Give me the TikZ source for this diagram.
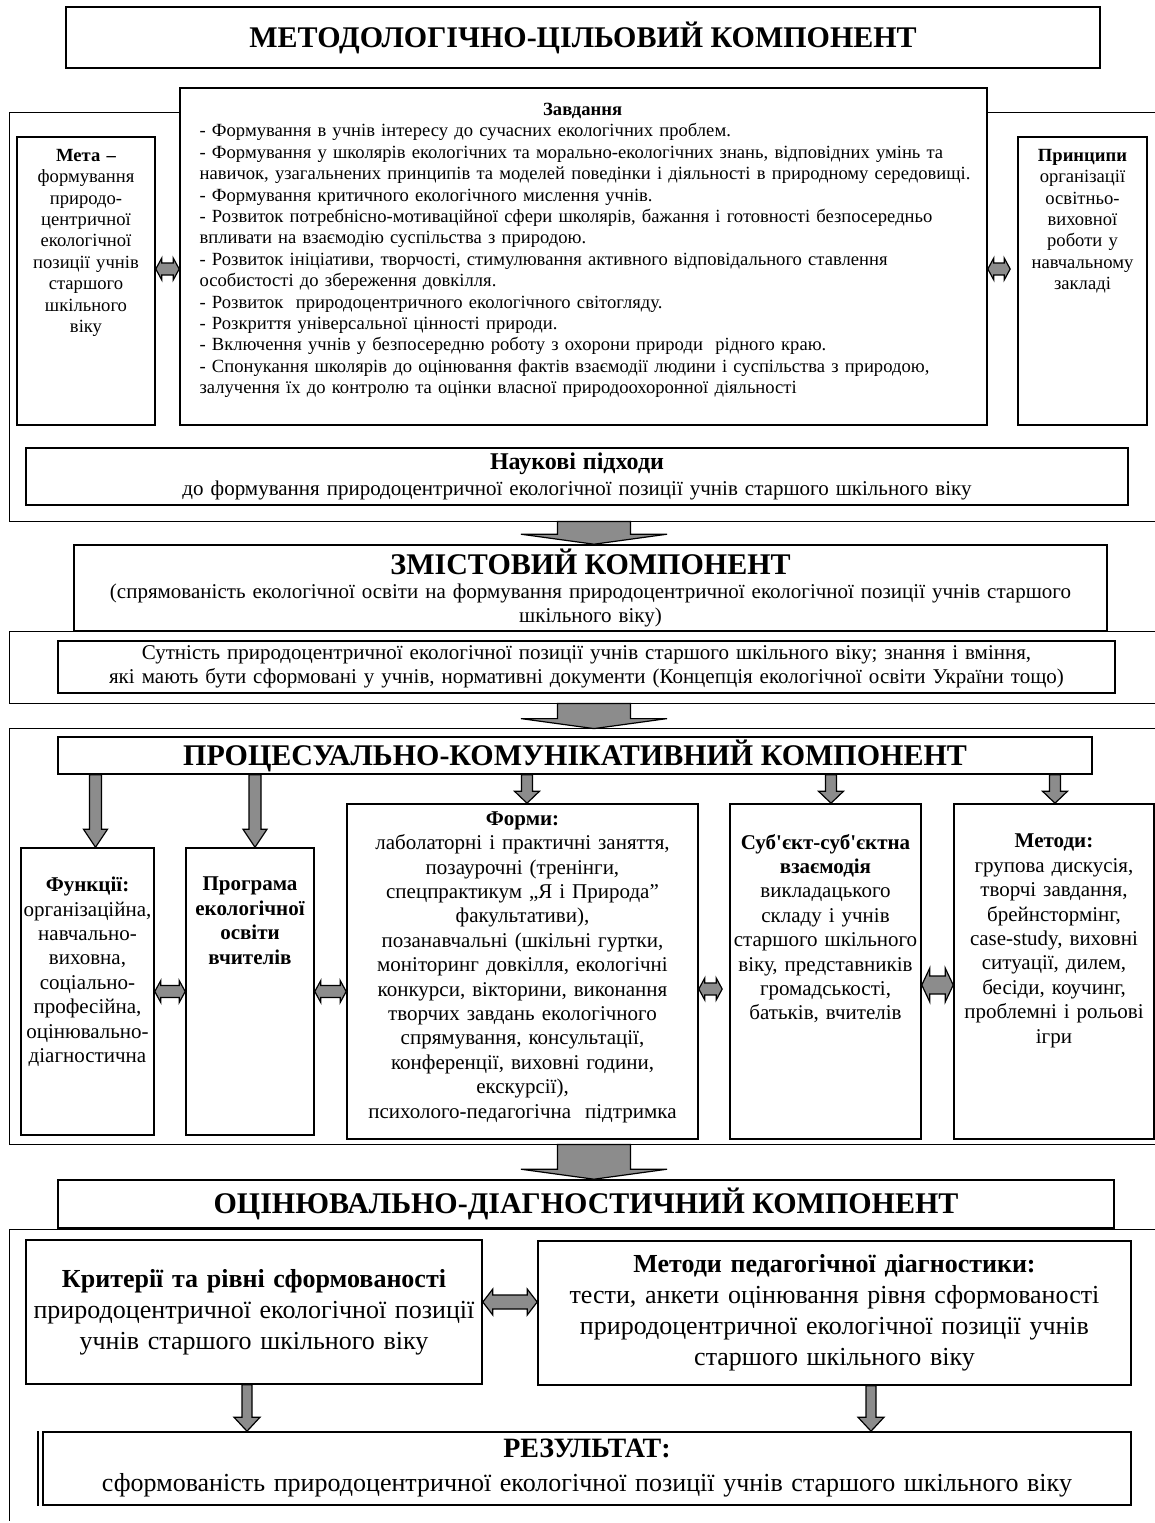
\documentclass[tikz,border=0pt]{standalone}
\usepackage{fontspec}
\setmainfont{Liberation Serif}[Ligatures=TeXOff,BoldFont={Liberation Serif Bold},ItalicFont={Liberation Serif Italic}]
\usetikzlibrary{positioning,calc}

\newcommand{\zsz}{\fontsize{9.3pt}{10.7pt}\selectfont}
\newcommand{\msz}{\fontsize{10.5pt}{12pt}\selectfont}
\newcommand{\lsz}{\fontsize{10.5pt}{12.2pt}\selectfont}
\newcommand{\bsz}{\fontsize{13pt}{15.5pt}\selectfont}
\newcommand{\tsz}{\fontsize{15pt}{18pt}\selectfont\bfseries}
\newcommand{\jl}[1]{\makebox[383pt][s]{#1}}
\newcommand{\blkdown}[5]{\path[blk] let \p1=#1,\p2=#2 in (\x1-#3,\y1)--(\x1-#3,\y2+#5)--(\x1-#4,\y2+#5)--(\x1,\y2)--(\x1+#4,\y2+#5)--(\x1+#3,\y2+#5)--(\x1+#3,\y1)--cycle;}
\newcommand{\blkboth}[5]{\path[blk] let \p1=#1,\p2=#2 in (\x1,\y1)--(\x1+#5,\y1+#3)--(\x1+#5,\y1+#4)--(\x2-#5,\y1+#4)--(\x2-#5,\y1+#3)--(\x2,\y1)--(\x2-#5,\y1-#3)--(\x2-#5,\y1-#4)--(\x1+#5,\y1-#4)--(\x1+#5,\y1-#3)--cycle;}

\begin{document}
\begin{tikzpicture}[x=0.5pt,y=-0.5pt,
	box/.style={draw,line width=0.8pt,fill=white,inner sep=0pt,align=center},
	frm/.style={inner sep=0pt},
	txt/.style={inner sep=0pt,align=center},
	blk/.style={draw,fill=black!45,line width=0.6pt}]
	\useasboundingbox (0,0) rectangle (1155,1523);
	\node[box,minimum width=517pt,minimum height=30.5pt,font=\tsz] (meth) at (583,37.5) {МЕТОДОЛОГІЧНО-ЦІЛЬОВИЙ КОМПОНЕНТ};
	\node[frm,minimum width=572.5pt,minimum height=204pt] (fr1) at (582.5,317) {};
	\draw[line width=0.8pt] (fr1.north east)--(fr1.north west)--(fr1.south west)--(fr1.south east);
	\node[box,minimum width=403.5pt,minimum height=168.5pt] (zavd) at (583.5,256.5) {};
	\node[txt,text width=400pt,align=left,font=\zsz,below right=7.8pt and 10pt of zavd.north west] (zavdt) {\makebox[383pt]{\textbf{Завдання}}\\
		- Формування в учнів інтересу до сучасних екологічних проблем.\\
		\jl{- Формування у школярів екологічних та морально-екологічних знань, відповідних умінь та}\\
		навичок, узагальнених принципів та моделей поведінки і діяльності в природному середовищі.\\
		- Формування критичного екологічного мислення учнів.\\
		\jl{- Розвиток потребнісно-мотиваційної сфери школярів, бажання і готовності безпосередньо}\\
		впливати на взаємодію суспільства з природою.\\
		\jl{- Розвиток ініціативи, творчості, стимулювання активного відповідального ставлення}\\
		особистості до збереження довкілля.\\
		- Розвиток\ \ природоцентричного екологічного світогляду.\\
		- Розкриття універсальної цінності природи.\\
		- Включення учнів у безпосередню роботу з охорони природи\ \ рідного краю.\\
		\jl{- Спонукання школярів до оцінювання фактів взаємодії людини і суспільства з природою,}\\
		залучення їх до контролю та оцінки власної природоохоронної діяльності};
	\node[box,minimum width=69pt,minimum height=144pt] (meta) at (86,281) {};
	\node[txt,text width=80pt,font=\zsz,below=6.3pt of meta.north] (metat) {\textbf{Мета –}\\формування\\природо-\\центричної\\екологічної\\позиції учнів\\старшого\\шкільного\\віку};
	\node[box,minimum width=64.5pt,minimum height=144pt] (princ) at (1082.5,281) {};
	\node[txt,text width=80pt,font=\zsz,below=6.3pt of princ.north] (princt) {\textbf{Принципи}\\організації\\освітньо-\\виховної\\роботи у\\навчальному\\закладі};
	\blkboth{(meta.east |- 0,269)}{(zavd.west)}{5.5pt}{3pt}{3pt}
	\blkboth{(zavd.east |- 0,269)}{([xshift=-3.5pt]princ.west)}{5.5pt}{3pt}{3pt}
	\node[box,minimum width=551pt,minimum height=28.5pt,text width=551pt,font=\msz] (nauk) at (577,476.5) {{\fontsize{12pt}{14pt}\selectfont\bfseries Наукові підходи}\\[1pt]
		до формування природоцентричної екологічної позиції учнів старшого шкільного віку};
	\node[box,minimum width=516.5pt,minimum height=43pt,text width=516.5pt,font=\msz] (zmist) at (590.5,588) {{\tsz ЗМІСТОВИЙ КОМПОНЕНТ}\\
		(спрямованість екологічної освіти на формування природоцентричної екологічної позиції учнів старшого\\шкільного віку)};
	\blkdown{(594,0 |- fr1.south)}{(594,0 |- zmist.north)}{18.25pt}{36.5pt}{5pt}
	\node[frm,minimum width=572.5pt,minimum height=35.5pt] (fr2) at (582.5,667.5) {};
	\draw[line width=0.8pt] (fr2.north east)--(fr2.north west)--(fr2.south west)--(fr2.south east);
	\node[box,minimum width=528.5pt,minimum height=26pt,text width=528.5pt,font=\msz] (sutn) at (586.5,667) {Сутність природоцентричної екологічної позиції учнів старшого шкільного віку; знання і вміння,\\
		які мають бути сформовані у учнів, нормативні документи (Концепція екологічної освіти України тощо)};
	\node[frm,minimum width=572.5pt,minimum height=207.5pt] (fr3) at (582.5,936.5) {};
	\draw[line width=0.8pt] (fr3.north east)--(fr3.north west)--(fr3.south west)--(fr3.south east);
	\blkdown{(594,0 |- fr2.south)}{(594,0 |- fr3.north)}{18.25pt}{36.5pt}{5pt}
	\node[box,minimum width=517pt,minimum height=18.5pt,font=\tsz] (proc) at (575,755.5) {ПРОЦЕСУАЛЬНО-КОМУНІКАТИВНИЙ КОМПОНЕНТ};
	\node[box,minimum width=66.5pt,minimum height=143.5pt] (funk) at (87.5,991.5) {};
	\node[txt,text width=80pt,font=\lsz,below=14.75pt of funk.north] (funkt) {\textbf{Функції:}\\організаційна,\\навчально-\\виховна,\\соціально-\\професійна,\\оцінювально-\\діагностична};
	\node[box,minimum width=64pt,minimum height=143.5pt] (prog) at (250,991.5) {};
	\node[txt,text width=80pt,font=\lsz\bfseries,below=14.75pt of prog.north] (progt) {Програма\\екологічної\\освіти\\вчителів};
	\node[box,minimum width=175.5pt,minimum height=167.5pt] (form) at (522.5,971.5) {};
	\node[txt,text width=190pt,font=\lsz,below=4pt of form.north] (formt) {\textbf{Форми:}\\лаболаторні і практичні заняття,\\позаурочні (тренінги,\\спецпрактикум „Я і Природа”\\факультативи),\\позанавчальні (шкільні гуртки,\\моніторинг довкілля, екологічні\\конкурси, вікторини, виконання\\творчих завдань екологічного\\спрямування, консультації,\\конференції, виховні години,\\екскурсії),\\психолого-педагогічна\ \ підтримка};
	\node[box,minimum width=95.5pt,minimum height=167.5pt] (subj) at (825.5,971.5) {};
	\node[txt,text width=120pt,font=\lsz,below=15.25pt of subj.north] (subjt) {\textbf{Суб'єкт-суб'єктна}\\\textbf{взаємодія}\\викладацького\\складу і учнів\\старшого шкільного\\віку, представників\\громадськості,\\батьків, вчителів};
	\node[box,minimum width=100pt,minimum height=167.5pt] (metod) at (1054,971.5) {};
	\node[txt,text width=120pt,font=\lsz,below=15.25pt of metod.north] (metodt) {\textbf{Методи:}\\групова дискусія,\\творчі завдання,\\брейнстормінг,\\case-study, виховні\\ситуації, дилем,\\бесіди, коучинг,\\проблемні і рольові\\ігри};
	\blkdown{(95.5,0 |- proc.south)}{(95.5,0 |- funk.north)}{3pt}{6pt}{9pt}
	\blkdown{(255,0 |- proc.south)}{(255,0 |- prog.north)}{3pt}{6pt}{9pt}
	\blkdown{(527,0 |- proc.south)}{(527,0 |- form.north)}{2.75pt}{6.25pt}{6pt}
	\blkdown{(831,0 |- proc.south)}{(831,0 |- subj.north)}{2.75pt}{6.25pt}{6pt}
	\blkdown{(1055,0 |- proc.south)}{(1055,0 |- metod.north)}{2.75pt}{6.25pt}{6pt}
	\blkboth{(funk.east)}{(prog.west)}{5.5pt}{3pt}{3pt}
	\blkboth{(prog.east)}{(form.west)}{5.5pt}{3pt}{3pt}
	\blkboth{(form.east |- 0,989)}{([xshift=-3.5pt]subj.west)}{5.5pt}{3pt}{3pt}
	\blkboth{(subj.east |- 0,985)}{(metod.west)}{8.5pt}{4.5pt}{4pt}
	\node[box,minimum width=528pt,minimum height=24pt,font=\tsz] (ocin) at (586,1204) {ОЦІНЮВАЛЬНО-ДІАГНОСТИЧНИЙ КОМПОНЕНТ};
	\blkdown{(594,0 |- fr3.south)}{(594,0 |- ocin.north)}{18.25pt}{36.5pt}{5pt}
	\node[frm,minimum width=572.5pt,minimum height=145.5pt] (fr4) at (582.5,1375.5) {};
	\draw[line width=0.8pt] (fr4.north east)--(fr4.north west)--(fr4.south west);
	\node[box,minimum width=228pt,minimum height=72pt,text width=228pt,font=\bsz] (krit) at (254,1312) {\textbf{Критерії та рівні сформованості}\\природоцентричної екологічної позиції\\учнів старшого шкільного віку};
	\node[box,minimum width=296.5pt,minimum height=72pt,text width=296.5pt,font=\bsz] (diag) at (834.5,1313) {\textbf{Методи педагогічної діагностики:}\\тести, анкети оцінювання рівня сформованості\\природоцентричної екологічної позиції учнів\\старшого шкільного віку};
	\blkboth{(krit.east |- 0,1302)}{(diag.west)}{6.5pt}{3.5pt}{5pt}
	\node[box,minimum width=544pt,minimum height=36.5pt,text width=544pt,font=\bsz] (rez) at (587,1468.5) {{\fontsize{14pt}{16pt}\selectfont\bfseries РЕЗУЛЬТАТ:}\\[1.5pt]
		сформованість природоцентричної екологічної позиції учнів старшого шкільного віку};
	\draw[line width=0.8pt] ([xshift=-2pt]rez.north west)--([xshift=-2pt]rez.south west);
	\blkdown{(247,0 |- krit.south)}{(247,0 |- rez.north)}{2.5pt}{6.5pt}{7pt}
	\blkdown{(871,0 |- diag.south)}{(871,0 |- rez.north)}{2.5pt}{6.5pt}{7pt}
\end{tikzpicture}
\end{document}
